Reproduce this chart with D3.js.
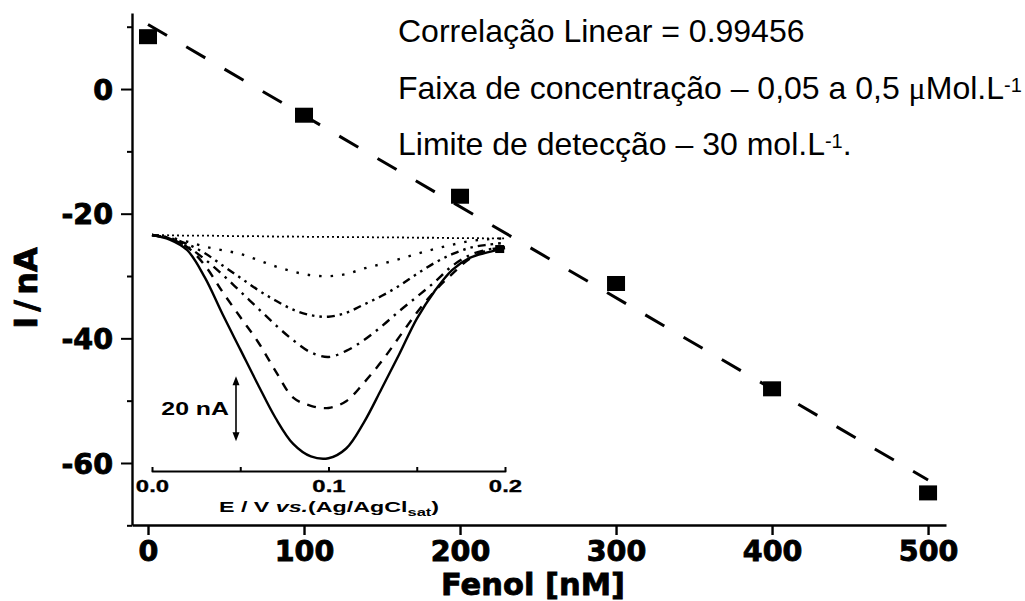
<!DOCTYPE html>
<html><head><meta charset="utf-8">
<script src="https://cdn.jsdelivr.net/npm/d3@7"></script>
<style>body{margin:0;background:#fff;} svg{display:block;}</style>
</head><body>
<svg id="c" width="1025" height="601"></svg>
<script>
// ---------- data ----------
const fenolConc = [0, 100, 200, 300, 400, 500];
const currentNA = [8.4, -4.2, -17.2, -31.2, -48.1, -64.8];
const xTicks = [0, 100, 200, 300, 400, 500];
const yMajorTicks = [0, -20, -40, -60];
const yMinorTicks = [10, -10, -30, -50, -70];
const xTitle = "Fenol [nM]";
const yTitle = "I / nA";
const noteLines = [
  [{t:"Correlação Linear = 0.99456"}],
  [{t:"Faixa de concentração – 0,05 a 0,5 "},{t:"μ",mu:true},{t:"Mol.L"},{t:"-1",sup:true}],
  [{t:"Limite de detecção – 30 mol.L"},{t:"-1",sup:true},{t:"."}]
];
// inset: differential pulse voltammograms (E in V, I in nA relative to baseline)
const insetE = [0,0.01,0.02,0.03,0.04,0.05,0.06,0.07,0.08,0.09,0.10,0.11,0.12,0.13,0.14,0.15,0.16,0.17,0.18,0.19,0.20];
const curveBlank = [0,-0.1,-0.2,-0.2,-0.3,-0.4,-0.4,-0.5,-0.5,-0.6,-0.6,-0.7,-0.7,-0.8,-0.8,-0.9,-0.9,-1.0,-1.0,-1.1,-1.1];
const curve1 = [0,-0.8,-2.2,-3.8,-5,-6.2,-8.2,-10.3,-12,-13.2,-13.5,-12.8,-11,-9.5,-7.9,-6.2,-4.6,-3.2,-2,-1.4,-1.1];
const curve2 = [0,-1,-3,-6,-10,-14,-18,-21.5,-24.5,-26.3,-26.8,-25.5,-22.8,-20,-16.7,-12.8,-9.2,-6.3,-4.2,-3.2,-2.6];
const curve3 = [0,-1.2,-3.8,-8,-13,-18.5,-24,-29.5,-34.5,-38.5,-40,-38,-34.5,-30,-25,-20.3,-15.5,-10.2,-6.6,-4.8,-4];
const curve4 = [0,-1.2,-4,-10,-18.7,-26.9,-35,-44.6,-53.3,-56,-56.7,-54.5,-48.5,-41.5,-33.5,-25.5,-18.5,-12.8,-7.8,-5,-4];
const curve5 = [0,-1.5,-5,-14,-26,-37.5,-49,-60,-68.5,-72.6,-73.2,-70,-61.5,-50.5,-39.2,-27.5,-18.5,-11.5,-7.5,-5.7,-4.3];
const insetCurves = [curveBlank, curve1, curve2, curve3, curve4, curve5];
const insetXTicks = [0, 0.05, 0.1, 0.15, 0.2];
const insetXLabels = [0, 0.1, 0.2];
const scaleBarNA = [-47, -67];
const scaleBarLabel = "20 nA";
const insetEndMarker = [0.197, -4.6];

// ---------- styles ----------
const insetDash = ["2 3", "2.5 9", "8 5 2.5 5 2.5 5", "9 6 2.5 6", "9 8", null];
const insetWidth = [1.8, 2.4, 2.4, 2.4, 2.4, 2.4];

const svg = d3.select("#c");
const x = d3.scaleLinear().domain([-10.26, 511.5]).range([132, 946]);
const y = d3.scaleLinear().domain([-69.95, 12.2]).range([525, 13]);
const tickFont = "'DejaVu Sans', sans-serif";
const plainNum = d => String(d);

// ---------- inset ----------
const xi = d3.scaleLinear().domain([0, 0.2]).range([152, 505]);
const yi = d3.scaleLinear().domain([0, -20]).range([235, 296]);
const inset = svg.append("g");
const line = d3.line().x((d,i)=>xi(insetE[i])).y(d=>yi(d)).curve(d3.curveCatmullRom);
insetCurves.forEach((c,k)=>{
  inset.append("path").attr("d", line(c)).attr("fill","none").attr("stroke","#000")
    .attr("stroke-width", insetWidth[k]).attr("stroke-dasharray", insetDash[k]);
});
inset.append("rect").attr("x", xi(insetEndMarker[0])-4.5).attr("y", yi(insetEndMarker[1])-4)
  .attr("width",9).attr("height",8).attr("fill","#000");

const ixAxis = d3.axisBottom(xi).tickValues(insetXTicks).tickSize(-4).tickSizeOuter(0).tickPadding(9.6)
  .tickFormat(d => insetXLabels.includes(d) ? d3.format(".1f")(d) : "");
const ixg = inset.append("g").attr("transform","translate(0,471)").call(ixAxis);
ixg.select(".domain").attr("stroke-width",2.2).attr("stroke-linecap","round");
ixg.selectAll(".tick line").attr("stroke-width",2);
ixg.selectAll("text").attr("font-family","'Liberation Sans', Arial, sans-serif").attr("font-weight","bold")
  .attr("font-size",16.5).attr("fill","#000").attr("stroke","#000").attr("stroke-width",0.3).attr("transform","scale(1.45,1)");

const it = inset.append("g").attr("transform","translate(329,512) scale(1.5,1)")
  .append("text").attr("text-anchor","middle").attr("font-family","'Liberation Sans', Arial, sans-serif")
  .attr("font-weight","bold").attr("font-size",15.5).attr("fill","#000");
it.append("tspan").text("E / V ");
it.append("tspan").attr("font-style","italic").text("vs.");
it.append("tspan").text("(Ag/AgCl");
it.append("tspan").attr("font-size",11).attr("dy",4).text("sat");
it.append("tspan").attr("dy",-4).text(")");

// scale bar
const sbx = 236, sy1 = yi(scaleBarNA[0]), sy2 = yi(scaleBarNA[1]);
inset.append("line").attr("x1",sbx).attr("x2",sbx).attr("y1",sy1+3).attr("y2",sy2-3)
  .attr("stroke","#000").attr("stroke-width",1.6);
inset.append("path").attr("d",`M${sbx},${sy1-2} l-3.5,9 l7,0 Z M${sbx},${sy2+2} l-3.5,-9 l7,0 Z`).attr("fill","#000");
inset.append("g").attr("transform",`translate(229,${(sy1+sy2)/2+6})`+" scale(1.42,1)")
  .append("text").attr("text-anchor","end").attr("font-family","'Liberation Sans', Arial, sans-serif")
  .attr("font-weight","bold").attr("font-size",17.5).attr("fill","#000").text(scaleBarLabel);

// ---------- main axes ----------
const xAxis = d3.axisBottom(x).tickValues(xTicks).tickSize(10).tickSizeOuter(0).tickPadding(6).tickFormat(plainNum);
const gx = svg.append("g").attr("transform","translate(0,525)").call(xAxis);
gx.select(".domain").attr("stroke-width",2.4);
gx.selectAll(".tick line").attr("stroke-width",2.4);
gx.selectAll("text").attr("font-family",tickFont).attr("font-weight","bold").attr("font-size",28.5).attr("fill","#000")
  .attr("stroke","#000").attr("stroke-width",0.9);

const yAxis = d3.axisLeft(y).tickValues(yMajorTicks).tickSize(11).tickSizeOuter(0).tickPadding(8).tickFormat(plainNum);
const gy = svg.append("g").attr("transform","translate(132,0)").call(yAxis);
gy.select(".domain").attr("stroke-width",2.4);
gy.selectAll(".tick line").attr("stroke-width",2);
gy.selectAll("text").attr("font-family",tickFont).attr("font-weight","bold").attr("font-size",28.5).attr("fill","#000")
  .attr("stroke","#000").attr("stroke-width",0.9).attr("dy","0.36em");
const yMinor = d3.axisLeft(y).tickValues(yMinorTicks).tickSize(5).tickFormat("");
const gym = svg.append("g").attr("transform","translate(132,0)").call(yMinor);
gym.select(".domain").remove();
gym.selectAll(".tick line").attr("stroke-width",2);

svg.append("text").attr("x",533).attr("y",595).attr("text-anchor","middle")
  .attr("font-family",tickFont).attr("font-weight","bold").attr("font-size",30.5).attr("stroke","#000").attr("stroke-width",0.8).text(xTitle);
svg.append("text").attr("transform","translate(37,288) rotate(-90)").attr("text-anchor","middle")
  .attr("font-family",tickFont).attr("font-weight","bold").attr("font-size",32).attr("word-spacing","-6px")
  .attr("stroke","#000").attr("stroke-width",0.8).text(yTitle);

// ---------- regression line ----------
const mx = d3.mean(fenolConc), my = d3.mean(currentNA);
const sxy = d3.sum(fenolConc.map((v,i)=>(v-mx)*(currentNA[i]-my)));
const sxx = d3.sum(fenolConc.map(v=>(v-mx)*(v-mx)));
const slope = sxy/sxx, icpt = my - slope*mx;
const fitX = [d3.min(fenolConc), d3.max(fenolConc)];
svg.append("path").attr("d", d3.line().x(d=>x(d)).y(d=>y(icpt+slope*d))(fitX))
  .attr("fill","none").attr("stroke","#000").attr("stroke-width",3).attr("stroke-dasharray","22 22.3");

// ---------- points ----------
svg.selectAll("rect.pt").data(fenolConc).enter().append("rect").attr("class","pt")
  .attr("x",(d)=>x(d)-9).attr("y",(d,i)=>y(currentNA[i])-7.5).attr("width",18).attr("height",15).attr("fill","#000");

// ---------- annotations ----------
const baselines = [42, 99, 155];
noteLines.forEach((parts,k)=>{
  const t = svg.append("text").attr("x",398).attr("y",baselines[k])
    .attr("font-family","'Liberation Sans', Arial, sans-serif").attr("font-size",32).attr("fill","#000");
  parts.forEach(p=>{
    const s = t.append("tspan").text(p.t);
    if (p.sup) s.attr("font-size",20).attr("baseline-shift","7px");
    if (p.mu) s.attr("font-family","'Liberation Serif', serif");
  });
});
</script>
</body></html>
